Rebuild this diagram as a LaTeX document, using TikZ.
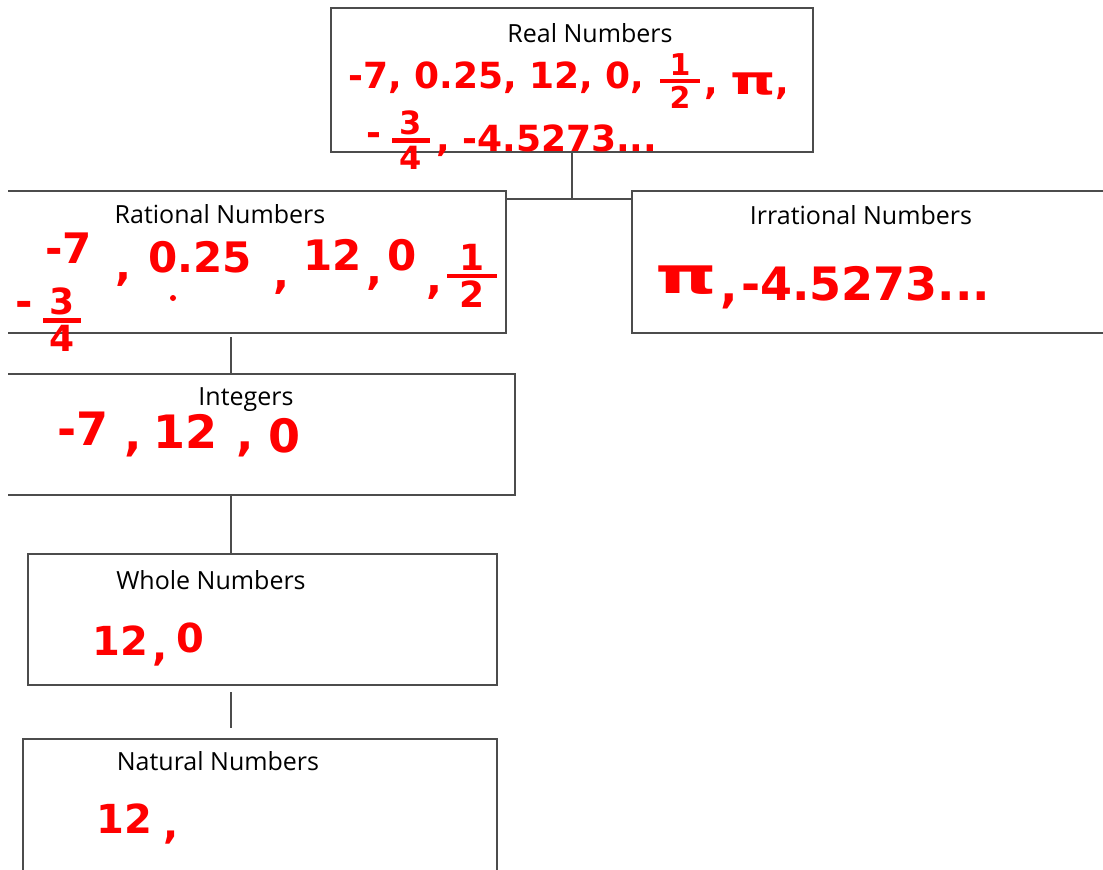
\documentclass[tikz,border=0pt]{standalone}
\usepackage{fontspec}
\setmainfont{Open Sans}
\newfontfamily\hand{DejaVu Sans}
\newcommand\hfr[3]{\vbox{\offinterlineskip\halign{\hfil##\hfil\cr #2\cr\noalign{\kern3pt}\rule{#1}{4.5pt}\cr\noalign{\kern3pt}#3\cr}}}
\newcommand\wpi[1]{\scalebox{#1}[1.1]{π}}
\tikzset{
  box/.style={draw=black!70, line width=2pt, rectangle, inner sep=0pt},
  conn/.style={draw=black!70, line width=2pt},
  lbl/.style={font=\fontsize{25}{25}\selectfont, text=black, inner sep=0pt, anchor=base},
  hw/.style={text=red, font=\hand\bfseries\fontsize{#1}{#1}\selectfont, inner sep=0pt, anchor=base west},
  fr/.style={text=red, font=\hand\bfseries\fontsize{#1}{#1}\selectfont, inner sep=0pt, anchor=center},
}
\begin{document}
\begin{tikzpicture}[x=1pt,y=-1pt]
\useasboundingbox (0,0) rectangle (1103,870);
\begin{scope}
\clip (8,0) rectangle (1103,870);
% boxes
\node[box, minimum width=482pt, minimum height=144pt] (real) at (572,80) {};
\node[box, minimum width=536pt, minimum height=142pt] (rat) at (238,262) {};
\node[box, minimum width=520pt, minimum height=142pt] (irr) at (892,262) {};
\node[box, minimum width=545pt, minimum height=121pt] (int) at (242.5,434.5) {};
\node[box, minimum width=469pt, minimum height=131pt] (whole) at (262.5,619.5) {};
\node[box, minimum width=474pt, minimum height=170pt] (nat) at (260,824) {};
% connectors
\coordinate (j) at (572,199);
\coordinate (cx) at (231,0);
\draw[conn] (real.south) -- (j);
\draw[conn] (rat.east |- j) -- (irr.west |- j);
\draw[conn] ([yshift=-3pt]rat.south -| cx) -- (int.north -| cx);
\draw[conn] (int.south -| cx) -- (whole.north -| cx);
\draw[conn] ([yshift=-6pt]whole.south -| cx) -- ([yshift=10pt]nat.north -| cx);
% labels
\node[lbl] (lreal) at (590,42) {Real Numbers};
\node[lbl] (lrat) at (220,223) {Rational Numbers};
\node[lbl] (lirr) at (861,224) {Irrational Numbers};
\node[lbl] (lint) at (246,405) {Integers};
\node[lbl] (lwhole) at (211,589) {Whole Numbers};
\node[lbl] (lnat) at (218,770) {Natural Numbers};
% real numbers handwriting
\node[hw=36] (r1) at (348,88) {-7, 0.25, 12, 0,};
\node[fr=30] (r2) at (680,81) {\hfr{40pt}{1}{2}};
\node[hw=36] (r3) at (704,94) {, \wpi{1.6},};
\node[hw=36] (r4) at (366,145) {-};
\node[fr=32] (r5) at (411,140) {\hfr{38pt}{3}{4}};
\node[hw=36] (r6) at (436,151) {, -4.5273...};
% rational
\node[hw=42] (q1) at (45,263) {-7};
\node[hw=42] (q2) at (115,280) {,};
\node[hw=42] (q3) at (148,272) {0.25};
\node[hw=42] (q4) at (273,288) {,};
\node[hw=42] (q5) at (303,270) {12};
\node[hw=42] (q6) at (366,284) {,};
\node[hw=42] (q7) at (387,270) {0};
\node[hw=42] (q8) at (426,293) {,};
\node[fr=36] (q9) at (472,276) {\hfr{50pt}{1}{2}};
\node[hw=42] (q10) at (15,316) {-};
\node[fr=36] (q11) at (62,320) {\hfr{38pt}{3}{4}};
\fill[red] (173,298) circle (3pt);
% irrational
\node[hw=46] (i1) at (655,293) {\wpi{1.7}};
\node[hw=46] (i2) at (720,302) {,};
\node[hw=46] (i3) at (741,300) {-4.5273...};
% integers
\node[hw=46] (z1) at (57,445) {-7};
\node[hw=46] (z2) at (124,450) {,};
\node[hw=46] (z3) at (153,448) {12};
\node[hw=46] (z4) at (236,450) {,};
\node[hw=46] (z5) at (268,452) {0};
% whole
\node[hw=40] (w1) at (92,655) {12};
\node[hw=40] (w2) at (152,660) {,};
\node[hw=40] (w3) at (176,652) {0};
% natural
\node[hw=40] (n1) at (96,833) {12};
\node[hw=40] (n2) at (163,838) {,};
\end{scope}
\end{tikzpicture}
\end{document}
